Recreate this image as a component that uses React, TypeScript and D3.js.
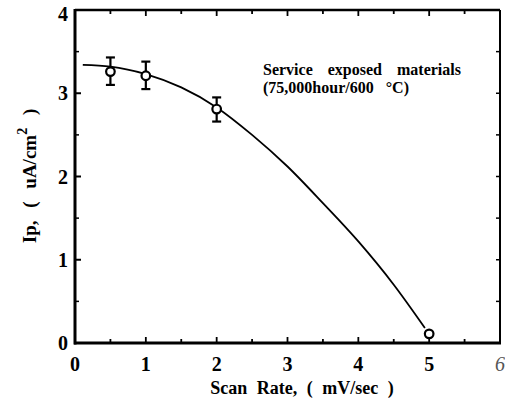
import React from "react";
import * as d3 from "d3";

const xTicks = [0, 1, 2, 3, 4, 5, 6];
const yTicks = [0, 1, 2, 3, 4];
const minorX = [0.5, 1.5, 2.5, 3.5, 4.5, 5.5];
const minorY = [0.5, 1.5, 2.5, 3.5];
const pointX = [0.5, 1, 2, 5];
const pointY = [3.26, 3.21, 2.81, 0.11];
const errLow = [3.1, 3.05, 2.66, 0.11];
const errHigh = [3.43, 3.38, 2.95, 0.11];
const fitX = [0.11, 0.5, 1, 1.5, 2, 2.5, 3, 3.5, 4, 4.5, 4.94];
const fitY = [3.34, 3.32, 3.23, 3.07, 2.83, 2.5, 2.12, 1.68, 1.22, 0.7, 0.18];

const W = 505;
const H = 398;
const L = 75, R = 500, T = 10, B = 343;
const font = '"Liberation Serif", serif';

export default function App() {
  const x = d3.scaleLinear().domain([0, 6]).range([L, R]);
  const y = d3.scaleLinear().domain([0, 4]).range([B, T]);
  const line = d3
    .line<number>()
    .x((_, i) => x(fitX[i]))
    .y((d) => y(d))
    .curve(d3.curveMonotoneX);

  return (
    <svg
      width={W}
      height={H}
      style={{ position: "absolute", left: 0, top: 0, background: "#fff", fontFamily: font }}
    >
      <rect x={0} y={0} width={W} height={H} fill="#fff" />
      {/* frame */}
      <line x1={L} y1={T - 1} x2={L} y2={B + 1.5} stroke="#000" strokeWidth={3} />
      <line x1={L - 1} y1={B} x2={R + 1} y2={B} stroke="#000" strokeWidth={3} />
      <line x1={L} y1={T} x2={R} y2={T} stroke="#000" strokeWidth={2.5} />
      <line x1={R} y1={T} x2={R} y2={B} stroke="#000" strokeWidth={2} />

      {/* left ticks */}
      {yTicks.map((t) => (
        <line key={"yl" + t} x1={L} x2={L + 6} y1={y(t)} y2={y(t)} stroke="#000" strokeWidth={2} />
      ))}
      {minorY.map((t) => (
        <line key={"ym" + t} x1={L} x2={L + 4} y1={y(t)} y2={y(t)} stroke="#000" strokeWidth={1.5} />
      ))}
      {/* right ticks */}
      {[...yTicks, ...minorY].map((t) => (
        <line key={"yr" + t} x1={R} x2={R - 4} y1={y(t)} y2={y(t)} stroke="#000" strokeWidth={1.5} />
      ))}
      {/* bottom / top ticks */}
      {[...xTicks, ...minorX].map((t) => (
        <g key={"xt" + t}>
          <line x1={x(t)} x2={x(t)} y1={B} y2={B - (Number.isInteger(t) ? 6 : 4)} stroke="#000" strokeWidth={1.8} />
          <line x1={x(t)} x2={x(t)} y1={T} y2={T + (Number.isInteger(t) ? 6 : 4)} stroke="#000" strokeWidth={1.8} />
        </g>
      ))}

      {/* tick labels */}
      {yTicks.map((t) => (
        <text
          key={"yt" + t}
          x={L - 7}
          y={t === 4 ? y(t) + 11 : y(t) + 7}
          textAnchor="end"
          fontSize={20}
          fontWeight="bold"
          fontFamily={font}
        >
          {t}
        </text>
      ))}
      {xTicks.map((t) => (
        <text
          key={"xl" + t}
          x={x(t)}
          y={371}
          textAnchor="middle"
          fontSize={20}
          fontWeight={t === 6 ? "normal" : "bold"}
          fontStyle={t === 6 ? "italic" : "normal"}
          fill={t === 6 ? "#555" : "#000"}
          fontFamily={font}
        >
          {t}
        </text>
      ))}

      {/* axis titles */}
      <text x={302} y={393.5} textAnchor="middle" fontSize={18} fontWeight="bold" wordSpacing={5} fontFamily={font}>
        Scan Rate, ( mV/sec )
      </text>
      <text
        transform={`translate(36,176) rotate(-90)`}
        textAnchor="middle"
        fontSize={19}
        fontWeight="bold"
        wordSpacing={8}
        fontFamily={font}
      >
        Ip, ( uA/cm
        <tspan dy={-9} fontSize={14}>2</tspan>
        <tspan dy={9}> )</tspan>
      </text>

      {/* annotation */}
      <text x={263} y={75} fontSize={16} fontWeight="bold" wordSpacing={11} fontFamily={font}>
        Service exposed materials
      </text>
      <text x={263} y={93} fontSize={16} fontWeight="bold" wordSpacing={8} fontFamily={font}>
        (75,000hour/600 °C)
      </text>

      {/* fit curve */}
      <path d={line(fitY) || ""} fill="none" stroke="#000" strokeWidth={1.8} />

      {/* error bars and points */}
      {pointX.map((px, i) => (
        <g key={"p" + i}>
          {errHigh[i] !== errLow[i] && (
            <g stroke="#000" strokeWidth={2.2}>
              <line x1={x(px)} x2={x(px)} y1={y(errLow[i])} y2={y(errHigh[i])} />
              <line x1={x(px) - 4.5} x2={x(px) + 4.5} y1={y(errLow[i])} y2={y(errLow[i])} />
              <line x1={x(px) - 4.5} x2={x(px) + 4.5} y1={y(errHigh[i])} y2={y(errHigh[i])} />
            </g>
          )}
          <circle cx={x(px)} cy={y(pointY[i])} r={4.3} fill="#fff" stroke="#000" strokeWidth={2.2} />
        </g>
      ))}
    </svg>
  );
}
